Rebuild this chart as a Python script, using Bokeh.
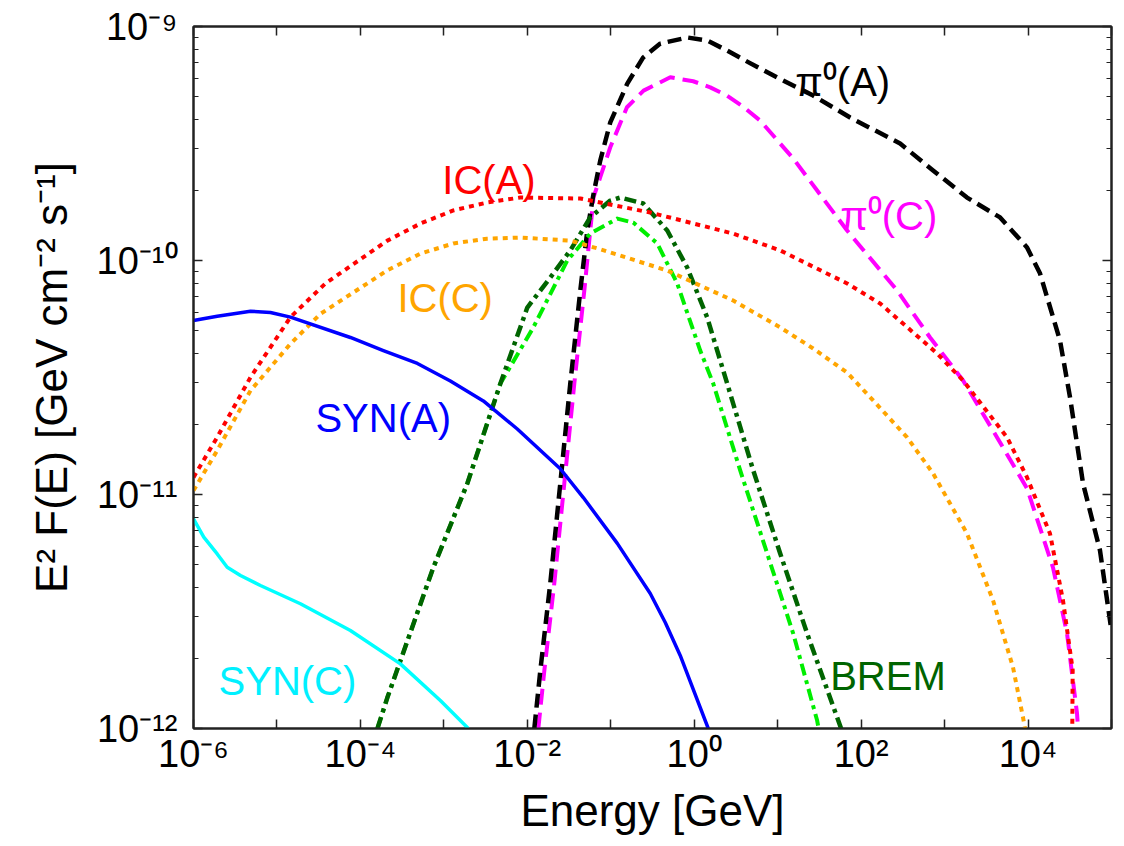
import numpy as np
from bokeh.plotting import figure
from bokeh.models import LogAxis, FixedTicker, Label, Range1d
from bokeh.embed import file_html
from bokeh.resources import INLINE

# ---------------- data (log10 E [GeV], log10 E^2F [GeV cm^-2 s^-1]) ----------------
syn_a_loge = [-6.0, -5.716, -5.317, -5.078, -4.838, -4.12, -3.725, -3.317, -2.922, -2.527, -2.12,
              -1.605, -1.329, -0.922, -0.527, -0.347, -0.168, 0.168]
syn_a_logf = [-10.256, -10.238, -10.217, -10.222, -10.242, -10.329, -10.385, -10.44, -10.515, -10.60, -10.72,
              -10.89, -11.013, -11.209, -11.423, -11.547, -11.688, -12.0]

syn_c_loge = [-6.0, -5.877, -5.716, -5.596, -5.437, -5.198, -4.719, -4.12, -3.521, -3.042, -2.707]
syn_c_logf = [-11.104, -11.182, -11.254, -11.311, -11.346, -11.389, -11.467, -11.581, -11.724, -11.88, -12.0]

ic_a_loge = [-6.0, -5.716, -5.317, -4.838, -4.419, -3.677, -3.281, -2.886, -2.479, -2.084, -1.365, -0.527,
             0.467, 1.03, 1.832, 2.228, 2.91, 3.222, 3.749, 3.988, 4.263, 4.419, 4.535, 4.53]
ic_a_logf = [-10.927, -10.755, -10.499, -10.242, -10.098, -9.915, -9.842, -9.786, -9.752, -9.731, -9.735, -9.795,
             -9.885, -9.957, -10.098, -10.184, -10.397, -10.513, -10.756, -10.927, -11.167, -11.453, -11.75, -12.0]

ic_c_loge = [-6.0, -5.716, -5.317, -4.838, -4.479, -3.681, -3.281, -2.886, -2.483, -2.084, -1.485, -1.126,
             -0.323, 0.467, 1.03, 1.425, 1.832, 2.144, 2.551, 2.862, 3.269, 3.581, 3.82, 3.94, 3.964]
ic_c_logf = [-10.983, -10.812, -10.556, -10.356, -10.228, -10.043, -9.971, -9.927, -9.907, -9.902, -9.915, -9.952,
             -10.043, -10.171, -10.286, -10.376, -10.479, -10.598, -10.756, -10.91, -11.167, -11.453, -11.739,
             -11.953, -12.0]

pi0_a_loge = [-1.916, -1.844, -1.725, -1.605, -1.485, -1.365, -1.281, -1.21, -1.126, -1.006, -0.802,
              -0.611, -0.407, -0.084, 0.156, 0.395, 0.635, 0.994, 1.425, 1.868, 2.467, 2.862, 3.269, 3.665,
              3.988, 4.144, 4.383, 4.503, 4.659, 4.862, 4.994]
pi0_a_logf = [-12.0, -11.752, -11.38, -10.953, -10.526, -10.128, -9.872, -9.722, -9.573, -9.41, -9.244,
              -9.132, -9.073, -9.047, -9.060, -9.103, -9.150, -9.218, -9.295, -9.389, -9.5, -9.615, -9.731,
              -9.816, -9.944, -10.056, -10.342, -10.585, -10.953, -11.239, -11.568]

pi0_c_loge = [-1.868, -1.796, -1.677, -1.557, -1.437, -1.317, -1.246, -1.206, -1.126, -1.006, -0.806,
              -0.607, -0.287, -0.012, 0.192, 0.392, 0.583, 0.79, 1.186, 1.473, 1.832, 2.431, 2.826, 3.222,
              3.629, 3.988, 4.299, 4.467, 4.587, 4.599]
pi0_c_logf = [-12.0, -11.752, -11.38, -10.953, -10.526, -10.128, -9.872, -9.729, -9.644, -9.516, -9.345,
              -9.274, -9.217, -9.234, -9.260, -9.295, -9.342, -9.402, -9.564, -9.701, -9.872, -10.128, -10.329,
              -10.513, -10.756, -10.974, -11.312, -11.594, -11.936, -12.0]

brem_a_loge = [-3.796, -3.677, -3.126, -2.719, -2.323, -2.0, -1.725, -1.485, -1.246, -1.006, -0.886,
               -0.611, -0.323, -0.084, 0.156, 0.395, 0.707, 1.03, 1.353, 1.713, 1.76]
brem_a_logf = [-12.0, -11.868, -11.312, -10.953, -10.526, -10.201, -10.073, -9.957, -9.816, -9.744, -9.731,
               -9.756, -9.872, -10.03, -10.244, -10.526, -10.897, -11.252, -11.594, -11.953, -12.0]

brem_c_loge = [-3.796, -3.677, -3.126, -2.719, -2.323, -1.928, -1.521, -1.246, -0.922, -0.731, -0.443,
               -0.204, 0.072, 0.228, 0.551, 0.874, 1.186, 1.473, 1.49]
brem_c_logf = [-12.0, -11.868, -11.312, -10.953, -10.526, -10.286, -10.0, -9.885, -9.821, -9.838, -9.927,
               -10.098, -10.385, -10.526, -10.897, -11.252, -11.594, -11.966, -12.0]

x_label_decades = [-6, -4, -2, 0, 2, 4]
x_tick_labels = ["10⁻⁶", "10⁻⁴", "10⁻²", "10⁰", "10²", "10⁴"]
x_other_decades = [-5, -3, -1, 1, 3, 5]
y_decades = [-12, -11, -10, -9]
y_tick_labels = ["10⁻¹²", "10⁻¹¹", "10⁻¹⁰", "10⁻⁹"]

FONT = "Liberation Sans"

def to_lin(a):
    return np.power(10.0, np.array(a, dtype=float))

p = figure(width=1116, height=842, x_axis_type="log", y_axis_type="log",
           x_range=Range1d(1e-6, 1e5), y_range=Range1d(1e-12, 1e-9),
           output_backend="svg", toolbar_location=None,
           min_border_left=193, min_border_top=26, min_border_right=5, min_border_bottom=114,
           background_fill_color="white", border_fill_color="white")
p.xgrid.visible = False
p.ygrid.visible = False
p.outline_line_color = "#222222"
p.outline_line_width = 2

x_ticks = [10.0 ** k for k in x_label_decades]
x_minor = [10.0 ** k for k in x_other_decades]
y_ticks = [10.0 ** k for k in y_decades]
y_minor = [m * 10.0 ** k for k in y_decades[:-1] for m in range(2, 10)]

x_ticker = FixedTicker(ticks=x_ticks, minor_ticks=x_minor)
y_ticker = FixedTicker(ticks=y_ticks, minor_ticks=y_minor)

def style_axis(ax, labels=True, minor_len=5):
    ax.axis_line_width = 2
    ax.axis_line_color = "#222222"
    ax.major_tick_in = 9
    ax.major_tick_out = 0
    ax.minor_tick_in = minor_len
    ax.minor_tick_out = 0
    ax.major_tick_line_width = 1.5
    ax.minor_tick_line_width = 1.5 if minor_len == 9 else 1.2
    ax.major_tick_line_color = "#222222"
    ax.minor_tick_line_color = "#222222"
    if labels:
        ax.major_label_text_font = FONT
        ax.major_label_text_font_size = "38px"
        ax.major_label_text_color = "black"
        ax.axis_label_text_font = FONT
        ax.axis_label_text_font_size = "44px"
        ax.axis_label_text_font_style = "normal"
        ax.axis_label_text_color = "black"
    else:
        ax.major_label_text_font_size = "1px"
        ax.major_label_text_alpha = 0
        ax.major_label_standoff = 0

xa = p.xaxis[0]
xa.ticker = x_ticker
xa.major_label_overrides = {t: s for t, s in zip(x_ticks, x_tick_labels)}
xa.axis_label = "Energy [GeV]"
style_axis(xa, minor_len=9)
xa.major_label_standoff = 4
xa.axis_label_standoff = 8

ya = p.yaxis[0]
ya.ticker = y_ticker
ya.major_label_overrides = {t: s for t, s in zip(y_ticks, y_tick_labels)}
ya.axis_label = "E² F(E) [GeV cm⁻² s⁻¹]"
style_axis(ya)
ya.major_label_standoff = 16
ya.axis_label_standoff = 18

top = LogAxis(ticker=x_ticker)
style_axis(top, labels=False, minor_len=9)
p.add_layout(top, "above")
right = LogAxis(ticker=y_ticker)
style_axis(right, labels=False)
p.add_layout(right, "right")

series = [
    (pi0_c_loge, pi0_c_logf, "#ff00ff", 4, "16 8"),
    (pi0_a_loge, pi0_a_logf, "#000000", 4.5, "14 7"),
    (brem_c_loge, brem_c_logf, "#00ee00", 4, "12 5 4 5"),
    (brem_a_loge, brem_a_logf, "#006400", 4.5, "12 5 4 5"),
    (ic_c_loge, ic_c_logf, "#ffa500", 4, "5 5"),
    (ic_a_loge, ic_a_logf, "#ff0000", 4, "5 5"),
    (syn_a_loge, syn_a_logf, "#0000ff", 3.5, "solid"),
    (syn_c_loge, syn_c_logf, "#00ffff", 3.5, "solid"),
]
for le, lf, col, w, dash in series:
    p.line(to_lin(le), to_lin(lf), line_color=col, line_width=w, line_dash=dash,
           line_join="round")

annotations = [
    ("π⁰(A)", 1.21, -9.239, "#000000"),
    ("IC(A)", -3.018, -9.658, "#ff0000"),
    ("π⁰(C)", 1.749, -9.808, "#ff00ff"),
    ("IC(C)", -3.557, -10.162, "#ffa500"),
    ("SYN(A)", -4.539, -10.675, "#0000ff"),
    ("SYN(C)", -5.70, -11.795, "#00f0ff"),
    ("BREM", 1.629, -11.774, "#006400"),
]
for txt, lx, ly, col in annotations:
    p.add_layout(Label(x=10.0 ** lx, y=10.0 ** ly, text=txt, text_color=col,
                       text_font=FONT, text_font_size="40px",
                       text_baseline="alphabetic", text_align="left"))

open("out.html", "w").write(file_html(p, INLINE))
